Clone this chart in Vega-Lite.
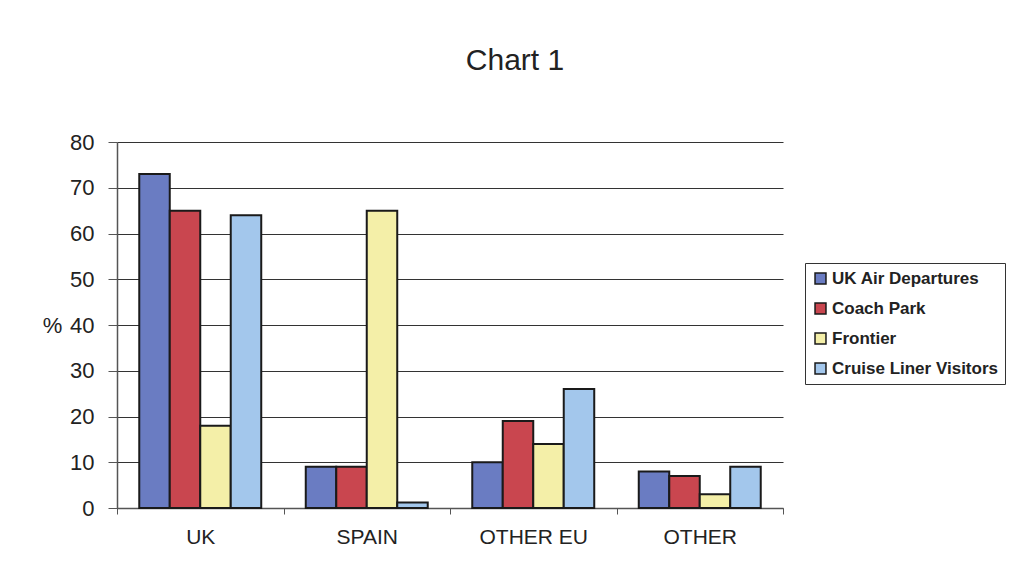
{
  "$schema": "https://vega.github.io/schema/vega-lite/v6.json",
  "autosize": "none",
  "width": 666,
  "height": 366,
  "padding": {"left": 117, "top": 142, "right": 232, "bottom": 72},
  "background": "white",
  "title": {
    "text": "Chart 1",
    "font": "Liberation Sans",
    "fontSize": 30,
    "fontWeight": "normal",
    "color": "#222222",
    "anchor": "middle",
    "baseline": "bottom",
    "offset": 25,
    "dx": 65
  },
  "data": {
    "values": [
      {"region": "UK", "series": "UK Air Departures", "pct": 73},
      {"region": "UK", "series": "Coach Park", "pct": 65},
      {"region": "UK", "series": "Frontier", "pct": 18},
      {"region": "UK", "series": "Cruise Liner Visitors", "pct": 64},
      {"region": "SPAIN", "series": "UK Air Departures", "pct": 9},
      {"region": "SPAIN", "series": "Coach Park", "pct": 9},
      {"region": "SPAIN", "series": "Frontier", "pct": 65},
      {"region": "SPAIN", "series": "Cruise Liner Visitors", "pct": 1.2},
      {"region": "OTHER EU", "series": "UK Air Departures", "pct": 10},
      {"region": "OTHER EU", "series": "Coach Park", "pct": 19},
      {"region": "OTHER EU", "series": "Frontier", "pct": 14},
      {"region": "OTHER EU", "series": "Cruise Liner Visitors", "pct": 26},
      {"region": "OTHER", "series": "UK Air Departures", "pct": 8},
      {"region": "OTHER", "series": "Coach Park", "pct": 7},
      {"region": "OTHER", "series": "Frontier", "pct": 3},
      {"region": "OTHER", "series": "Cruise Liner Visitors", "pct": 9}
    ]
  },
  "mark": {"type": "bar", "stroke": "#1a1a1a", "strokeWidth": 2},
  "encoding": {
    "x": {
      "field": "region",
      "type": "nominal",
      "sort": ["UK", "SPAIN", "OTHER EU", "OTHER"],
      "scale": {"paddingInner": 0, "paddingOuter": 0},
      "axis": {
        "title": null,
        "labelAngle": 0,
        "labelFont": "Liberation Sans",
        "labelFontSize": 21,
        "labelColor": "#222222",
        "labelPadding": 12,
        "tickBand": "extent",
        "tickSize": 6,
        "tickColor": "#555555",
        "domainColor": "#555555",
        "domainWidth": 1.5
      }
    },
    "xOffset": {
      "field": "series",
      "type": "nominal",
      "sort": ["UK Air Departures", "Coach Park", "Frontier", "Cruise Liner Visitors"],
      "scale": {"paddingInner": 0, "paddingOuter": 0.73}
    },
    "y": {
      "field": "pct",
      "type": "quantitative",
      "scale": {"domain": [0, 80], "nice": false},
      "axis": {
        "title": "%",
        "titleAngle": 0,
        "titleX": -65,
        "titleY": 183,
        "titleAlign": "center",
        "titleBaseline": "middle",
        "titleFont": "Liberation Sans",
        "titleFontSize": 22,
        "titleFontWeight": "normal",
        "titleColor": "#222222",
        "values": [0, 10, 20, 30, 40, 50, 60, 70, 80],
        "labelFont": "Liberation Sans",
        "labelFontSize": 22,
        "labelColor": "#222222",
        "labelPadding": 14,
        "tickSize": 9,
        "tickColor": "#555555",
        "domainColor": "#555555",
        "domainWidth": 1.5,
        "grid": true,
        "gridColor": "#333333",
        "gridWidth": 1.2
      }
    },
    "color": {
      "field": "series",
      "type": "nominal",
      "scale": {
        "domain": ["UK Air Departures", "Coach Park", "Frontier", "Cruise Liner Visitors"],
        "range": ["#6a7cc2", "#c9464f", "#f4efa8", "#a3c7ec"]
      },
      "legend": {
        "title": null,
        "orient": "none",
        "legendX": 688,
        "legendY": 121,
        "strokeColor": "#333333",
        "padding": 7,
        "symbolType": "square",
        "symbolSize": 120,
        "symbolStrokeColor": "#1a1a1a",
        "symbolStrokeWidth": 1.5,
        "labelFont": "Liberation Sans",
        "labelFontSize": 17,
        "labelFontWeight": "bold",
        "labelColor": "#222222",
        "labelLimit": 300,
        "labelOffset": 3,
        "rowPadding": 12
      }
    }
  },
  "config": {"view": {"stroke": null}}
}
